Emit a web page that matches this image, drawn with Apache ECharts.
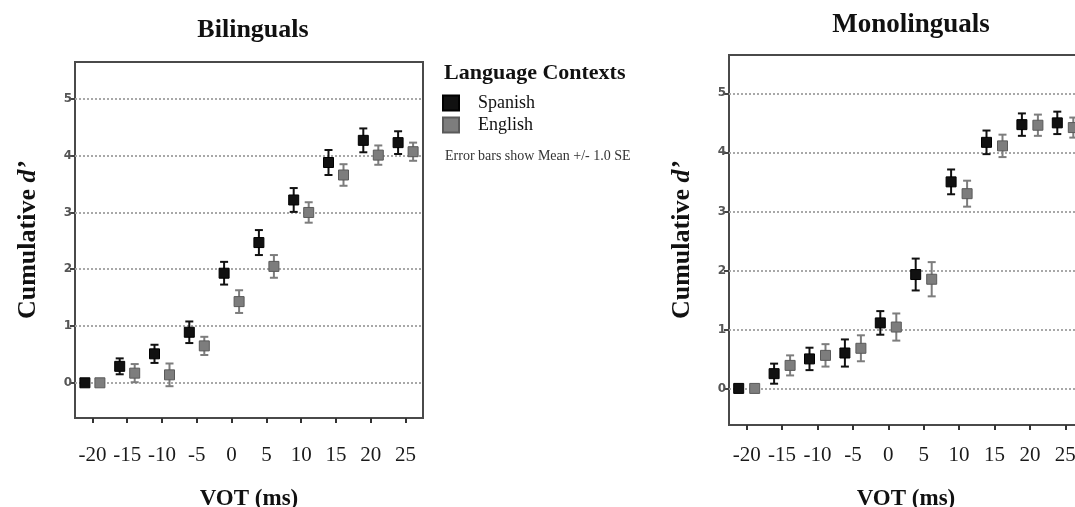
<!DOCTYPE html>
<html>
<head>
<meta charset="utf-8">
<script src="https://cdn.jsdelivr.net/npm/echarts@6/dist/echarts.min.js"></script>
<style>html,body{margin:0;padding:0;background:#fff;overflow:hidden}#c{width:1090px;height:507px}</style>
</head>
<body>
<div id="c"></div>
<script>
const categories = ['-20','-15','-10','-5','0','5','10','15','20','25'];
const yTickValues = [0, 1, 2, 3, 4, 5];
const biSpanish     = [0.00,0.29,0.51,0.89,1.93,2.47,3.22,3.88,4.27,4.23];
const biSpanishSE   = [0.00,0.14,0.16,0.19,0.20,0.22,0.21,0.22,0.21,0.20];
const biEnglish     = [0.00,0.17,0.14,0.65,1.43,2.05,3.00,3.66,4.01,4.07];
const biEnglishSE   = [0.00,0.16,0.20,0.16,0.20,0.20,0.18,0.19,0.17,0.16];
const monoSpanish   = [0.00,0.25,0.50,0.60,1.11,1.93,3.50,4.17,4.47,4.50];
const monoSpanishSE = [0.00,0.17,0.19,0.23,0.20,0.27,0.21,0.20,0.19,0.19];
const monoEnglish   = [0.00,0.39,0.56,0.68,1.04,1.85,3.30,4.11,4.46,4.42];
const monoEnglishSE = [0.00,0.17,0.19,0.22,0.23,0.29,0.22,0.19,0.18,0.17];

const SERIF = '"Liberation Serif", "DejaVu Serif", serif';
const SPANISH_COLOR = '#111111';
const ENGLISH_COLOR = '#7d7d7d';

const chart = echarts.init(document.getElementById('c'), null, {renderer: 'canvas'});

function pts(vals, se) { return vals.map((v, i) => [i, v, se[i]]); }

function scatter(name, gi, vals, se, color, off) {
  return {
    name: name, type: 'scatter', xAxisIndex: gi, yAxisIndex: gi,
    data: pts(vals, se), symbol: 'rect', symbolSize: 10, symbolOffset: [off, 0],
    itemStyle: {color: color, borderColor: name === 'English' ? '#5a5a5a' : '#000', borderWidth: 1, opacity: 1},
    z: 5
  };
}
function errbars(gi, vals, se, color, off) {
  return {
    type: 'custom', xAxisIndex: gi, yAxisIndex: gi, data: pts(vals, se), z: 4,
    silent: true,
    renderItem: function (params, api) {
      const i = api.value(0), m = api.value(1), s = api.value(2);
      if (!s) return null;
      const t = api.coord([i, m + s]);
      const b = api.coord([i, m - s]);
      const x = t[0] + off, cw = 4;
      const st = {stroke: color, lineWidth: 2};
      return {type: 'group', children: [
        {type: 'line', shape: {x1: x, y1: t[1], x2: x, y2: b[1]}, style: st},
        {type: 'line', shape: {x1: x - cw, y1: t[1], x2: x + cw, y2: t[1]}, style: st},
        {type: 'line', shape: {x1: x - cw, y1: b[1], x2: x + cw, y2: b[1]}, style: st}
      ]};
    }
  };
}

function xAxis(gi, labelMargin, nameGap) {
  return {
    type: 'category', gridIndex: gi, data: categories, boundaryGap: true, position: 'bottom',
    axisLine: {show: false, onZero: false},
    axisTick: {show: true, alignWithLabel: true, interval: 0, length: 5, lineStyle: {color: '#333', width: 2}},
    axisLabel: {fontFamily: SERIF, fontSize: 21, color: '#1a1a1a', margin: labelMargin, interval: 0},
    name: 'VOT (ms)', nameLocation: 'middle', nameGap: nameGap,
    nameTextStyle: {fontFamily: SERIF, fontSize: 23, fontWeight: 'bold', color: '#111'},
    splitLine: {show: false}
  };
}
function yAxis(gi) {
  return {
    type: 'value', gridIndex: gi, min: -0.62, max: 5.65, splitNumber: 6,
    axisLine: {show: false},
    axisTick: {show: true, length: 5, customValues: yTickValues, lineStyle: {color: '#444', width: 2}},
    axisLabel: {fontFamily: '"DejaVu Sans", sans-serif', fontSize: 12, fontWeight: 'bold', color: '#555', margin: 3,
      customValues: yTickValues},
    splitLine: {show: true, lineStyle: {color: '#a8a8a8', width: 2, type: [2, 2]}},
    name: '{a|Cumulative }{b|d’}', nameLocation: 'middle', nameGap: 34, nameRotate: 90,
    nameTextStyle: {fontFamily: SERIF, fontSize: 26, fontWeight: 'bold', color: '#111',
      rich: {a: {fontFamily: SERIF, fontSize: 26, fontWeight: 'bold', color: '#111'},
             b: {fontFamily: SERIF, fontSize: 26, fontWeight: 'bold', fontStyle: 'italic', color: '#111'}}}
  };
}

const option = {
  backgroundColor: '#ffffff',
  animation: false,
  title: [
    {text: 'Bilinguals', left: 253, top: 17, textAlign: 'center', padding: 0,
     textStyle: {fontFamily: SERIF, fontSize: 26, fontWeight: 'bold', color: '#111'}},
    {text: 'Monolinguals', left: 911, top: 12, textAlign: 'center', padding: 0,
     textStyle: {fontFamily: SERIF, fontSize: 27, fontWeight: 'bold', color: '#111'}},
    {text: 'Language Contexts', left: 444, top: 62, padding: 0,
     textStyle: {fontFamily: SERIF, fontSize: 22, fontWeight: 'bold', color: '#111'}},
    {text: 'Error bars show Mean +/- 1.0 SE', left: 445, top: 149, padding: 0,
     textStyle: {fontFamily: SERIF, fontSize: 14, fontWeight: 'normal', color: '#333'}}
  ],
  legend: {
    data: ['Spanish', 'English'], orient: 'vertical', left: 442, top: 94, padding: 0,
    itemWidth: 16, itemHeight: 15, itemGap: 4, icon: 'rect',
    textStyle: {fontFamily: SERIF, fontSize: 18, color: '#111', padding: [0, 0, 0, 14]}
  },
  grid: [
    {left: 75, top: 62, width: 348, height: 356, outerBoundsMode: 'none', containLabel: false,
     show: true, borderColor: '#4a4a4a', borderWidth: 2, backgroundColor: 'transparent'},
    {left: 729, top: 55, width: 354, height: 370, outerBoundsMode: 'none', containLabel: false,
     show: true, borderColor: '#4a4a4a', borderWidth: 2, backgroundColor: 'transparent'}
  ],
  xAxis: [xAxis(0, 27, 70), xAxis(1, 20, 63)],
  yAxis: [yAxis(0), yAxis(1)],
  series: [
    errbars(0, biSpanish, biSpanishSE, SPANISH_COLOR, -7.5),
    errbars(0, biEnglish, biEnglishSE, ENGLISH_COLOR, 7.5),
    scatter('Spanish', 0, biSpanish, biSpanishSE, SPANISH_COLOR, -7.5),
    scatter('English', 0, biEnglish, biEnglishSE, ENGLISH_COLOR, 7.5),
    errbars(1, monoSpanish, monoSpanishSE, SPANISH_COLOR, -8),
    errbars(1, monoEnglish, monoEnglishSE, ENGLISH_COLOR, 8),
    scatter('Spanish', 1, monoSpanish, monoSpanishSE, SPANISH_COLOR, -8),
    scatter('English', 1, monoEnglish, monoEnglishSE, ENGLISH_COLOR, 8)
  ]
};
chart.setOption(option);
</script>
</body>
</html>
